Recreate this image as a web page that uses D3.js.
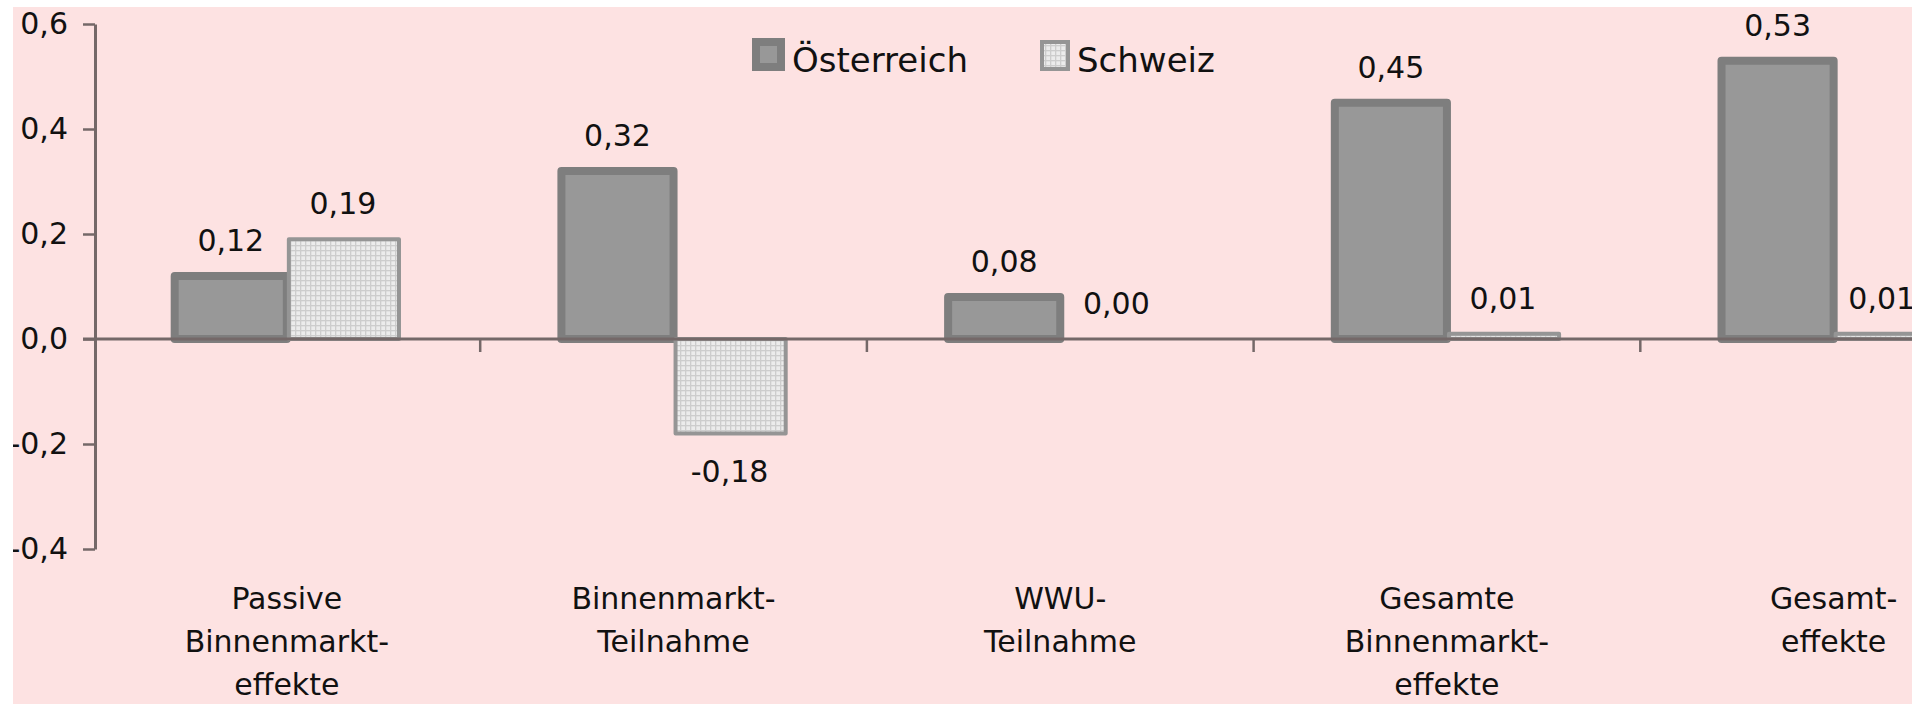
<!DOCTYPE html>
<html>
<head>
<meta charset="utf-8">
<script src="https://cdn.jsdelivr.net/npm/d3@7"></script>
<style>
  html, body { margin: 0; padding: 0; background: #ffffff; }
  svg { display: block; font-family: "DejaVu Sans", sans-serif; }
</style>
</head>
<body>
<svg id="chart" width="1927" height="704"></svg>
<script>
// ---- data ----
const categories = [
  ["Passive", "Binnenmarkt-", "effekte"],
  ["Binnenmarkt-", "Teilnahme"],
  ["WWU-", "Teilnahme"],
  ["Gesamte", "Binnenmarkt-", "effekte"],
  ["Gesamt-", "effekte"]
];
const seriesNames = ["Österreich", "Schweiz"];
const austria = [0.12, 0.32, 0.08, 0.45, 0.53];
const schweiz = [0.19, -0.18, 0.00, 0.01, 0.01];
const yTicks = [-0.4, -0.2, 0.0, 0.2, 0.4, 0.6];

// ---- layout ----
const W = 1927, H = 704;
const bg = {x: 13, y: 7, w: 1899, h: 697};
const x0 = 93.5, step = 386.7;
const svg = d3.select("#chart");

const defs = svg.append("defs");
defs.append("clipPath").attr("id", "clip")
  .append("rect").attr("x", bg.x).attr("y", bg.y).attr("width", bg.w).attr("height", bg.h);
const pat = defs.append("pattern").attr("id", "dots")
  .attr("patternUnits", "userSpaceOnUse").attr("width", 5).attr("height", 5);
pat.append("rect").attr("width", 5).attr("height", 5).attr("fill", "#ececec");
pat.append("rect").attr("x", 0).attr("y", 0).attr("width", 5).attr("height", 1.3).attr("fill", "#cdcdcd");
pat.append("rect").attr("x", 0).attr("y", 0).attr("width", 1.3).attr("height", 5).attr("fill", "#cdcdcd");

svg.append("rect").attr("x", bg.x).attr("y", bg.y).attr("width", bg.w).attr("height", bg.h)
  .attr("fill", "#fde2e2");

const g = svg.append("g").attr("clip-path", "url(#clip)");

const x = d3.scaleBand().domain(d3.range(categories.length))
  .range([x0, x0 + categories.length * step])
  .paddingInner(0.42).paddingOuter(0.21);
const xs = d3.scaleBand().domain(seriesNames).range([0, x.bandwidth()]);
const y = d3.scaleLinear().domain([-0.4, 0.6]).range([549, 24]);

const fmt2 = v => d3.format(".2f")(v).replace(".", ",").replace("−", "-");
const fmt1 = v => d3.format(".1f")(v).replace(".", ",").replace("−", "-");
const axisColor = "#746868";

// bars
const data = [];
categories.forEach((c, i) => {
  data.push({i, s: "Österreich", v: austria[i]});
  data.push({i, s: "Schweiz", v: schweiz[i]});
});

g.selectAll("rect.bar").data(data).join("rect")
  .attr("class", "bar")
  .attr("x", d => x(d.i) + xs(d.s) + (d.s === "Österreich" ? 0 : 2))
  .attr("width", d => xs.bandwidth() - (d.s === "Österreich" ? 0 : 2))
  .attr("y", d => Math.min(y(d.v), y(0)))
  .attr("height", d => Math.abs(y(d.v) - y(0)))
  .attr("fill", d => d.s === "Österreich" ? "#989898" : "url(#dots)")
  .attr("stroke", d => d.s === "Österreich" ? "#7e7e7e" : "#959595")
  .attr("stroke-width", d => d.s === "Österreich" ? 8 : 4)
  .attr("stroke-linejoin", "round");

// x axis line & ticks
g.append("line")
  .attr("x1", 83).attr("x2", W).attr("y1", y(0)).attr("y2", y(0))
  .attr("stroke", axisColor).attr("stroke-width", 3);
const bounds = d3.range(1, categories.length).map(i => x0 + i * step);
g.selectAll("line.xt").data(bounds).join("line")
  .attr("class", "xt")
  .attr("x1", d => d).attr("x2", d => d)
  .attr("y1", y(0)).attr("y2", y(0) + 13)
  .attr("stroke", axisColor).attr("stroke-width", 2.5);

// y axis
const yAxis = d3.axisLeft(y).tickValues(yTicks).tickFormat(fmt1).tickSize(12).tickSizeOuter(0).tickPadding(15);
const ya = g.append("g").attr("transform", `translate(${x0 + 1.5},0)`).call(yAxis);
ya.select(".domain").attr("stroke", axisColor).attr("stroke-width", 3);
ya.selectAll(".tick line").attr("stroke", axisColor).attr("stroke-width", 2.5);
ya.selectAll(".tick text").attr("fill", "#111").attr("font-size", 30)
  .attr("font-family", "DejaVu Sans");

// value labels
g.selectAll("text.val").data(data).join("text")
  .attr("class", "val")
  .attr("x", d => x(d.i) + xs(d.s) + xs.bandwidth() / 2 - (d.i === categories.length - 1 && d.s === "Schweiz" ? 8 : 0))
  .attr("y", d => d.v < 0 ? y(d.v) + 48 : y(d.v) - 25)
  .attr("text-anchor", "middle")
  .attr("font-size", 30).attr("fill", "#111")
  .text(d => fmt2(d.v));

// category labels
const cl = g.selectAll("text.cat").data(categories).join("text")
  .attr("class", "cat")
  .attr("text-anchor", "middle")
  .attr("font-size", 30).attr("fill", "#111")
  .attr("x", (d, i) => x(i) + x.bandwidth() / 2)
  .attr("y", 609);
cl.selectAll("tspan").data(d => d).join("tspan")
  .attr("x", function () { return d3.select(this.parentNode).attr("x"); })
  .attr("dy", (d, j) => j === 0 ? 0 : 43)
  .text(d => d);

// legend
const legend = [
  {name: seriesNames[0], sx: 752, sy: 38, sw: 33, sh: 33, tx: 792},
  {name: seriesNames[1], sx: 1040, sy: 40, sw: 30, sh: 31, tx: 1077}
];
const lg = g.selectAll("g.leg").data(legend).join("g").attr("class", "leg");
lg.append("rect")
  .attr("x", d => d.sx + (d.name === "Österreich" ? 4 : 2))
  .attr("y", d => d.sy + (d.name === "Österreich" ? 4 : 2))
  .attr("width", d => d.sw - (d.name === "Österreich" ? 8 : 4))
  .attr("height", d => d.sh - (d.name === "Österreich" ? 8 : 4))
  .attr("fill", d => d.name === "Österreich" ? "#989898" : "url(#dots)")
  .attr("stroke", d => d.name === "Österreich" ? "#7e7e7e" : "#959595")
  .attr("stroke-width", d => d.name === "Österreich" ? 8 : 4);
lg.append("text")
  .attr("x", d => d.tx).attr("y", 72)
  .attr("font-size", 34).attr("fill", "#111")
  .text(d => d.name);
</script>
</body>
</html>
